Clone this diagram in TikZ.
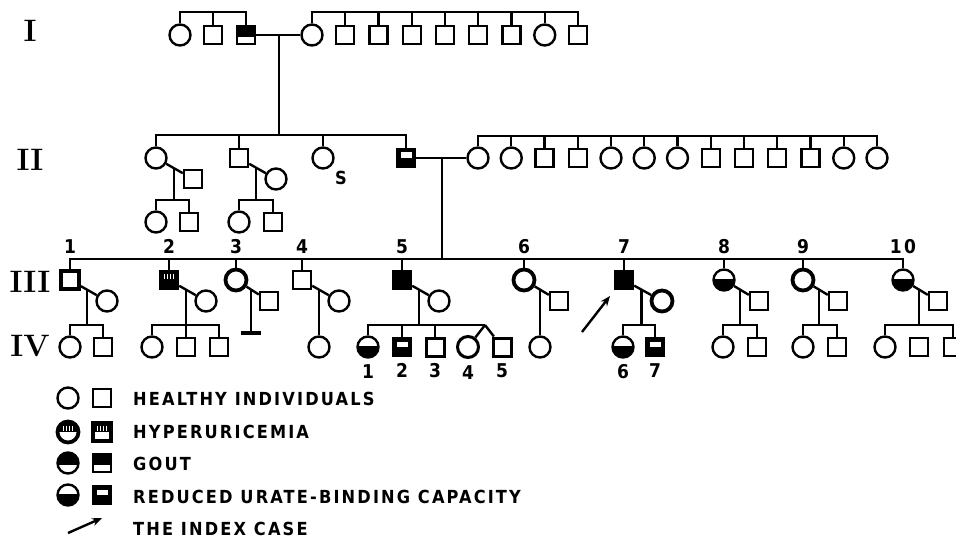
\documentclass[tikz,border=0pt]{standalone}
\usepackage{fontspec}
\usetikzlibrary{calc,arrows.meta}
\newfontfamily\dinfont{DejaVu Sans Condensed}[LetterSpace=12]
\tikzset{
  ind/.style={draw, inner sep=0pt},
  fem/.style={ind, circle, minimum size=21pt},
  mal/.style={ind, rectangle, minimum size=18pt},
  heavy/.style={line width=3.8pt},
  affected/.style={fill=black},
  gout/.style={path picture={\fill (path picture bounding box.north west) rectangle ([yshift=-2pt]path picture bounding box.east);}},
  reduced/.style={path picture={\fill ([yshift=1.5pt]path picture bounding box.west) rectangle (path picture bounding box.south east);}},
  reducedsq/.style={fill=black, path picture={\fill[white] ([shift={(-5.5pt,0pt)}]path picture bounding box.center) rectangle ([shift={(5.5pt,5.5pt)}]path picture bounding box.center);}},
  stripes/.style={path picture={\foreach \s in {-4.5,-1.5,1.5,4.5} \draw[white, line width=1.1pt] ([shift={(\s pt,1.5pt)}]path picture bounding box.center) -- ([shift={(\s pt,6pt)}]path picture bounding box.center);}},
  hyper/.style={heavy, path picture={\fill (path picture bounding box.north west) rectangle (path picture bounding box.east);
    \foreach \s in {-4.5,-1.5,1.5,4.5} \draw[white, line width=1.1pt] ([shift={(\s pt,1.5pt)}]path picture bounding box.center) -- ([shift={(\s pt,6pt)}]path picture bounding box.center);}},
  gen/.style={font=\rmfamily\bfseries\fontsize{31}{31}\selectfont},
  num/.style={font=\dinfont\bfseries\fontsize{19}{19}\selectfont, inner sep=1pt},
  lbl/.style={font=\dinfont\bfseries\fontsize{18}{18}\selectfont, anchor=west, inner sep=0pt}
}
\begin{document}
\begin{tikzpicture}[x=1pt, y=-1pt, line width=2.4pt]
\useasboundingbox (0,0) rectangle (956,540);
\clip (0,0) rectangle (956,540);

% Generations
\node[gen] (genI) at (30,31) {I};
\node[gen] (genII) at (30,160) {II};
\node[gen] (genIII) at (30,282) {III};
\node[gen] (genIV) at (30,346) {IV};

% Generation I
\coordinate (barI) at (0,12);
\node[fem] (I1) at (180,35) {};
\node[mal] (I2) at (213,35) {};
\node[mal, gout] (I3) at (246,35) {};
\draw (I1.north) |- (I3.north |- barI) -- (I3.north);
\draw (I2.north) -- (I2.north |- barI);
\foreach \s [count=\i] in {fem,mal,mal,mal,mal,mal,mal,fem,mal}
  \node[\s] (Iw\i) at ({312+33.25*(\i-1)},35) {};
\draw (Iw1.north) |- (Iw9.north |- barI) -- (Iw9.north);
\foreach \i in {2,...,8} \draw (Iw\i.north) -- (Iw\i.north |- barI);
\draw (I3) -- (Iw1);
\coordinate (Imar) at ($(I3)!0.5!(Iw1)$);

% Generation II
\coordinate (barII) at (0,135);
\node[fem] (II1) at (156,158) {};
\node[mal] (II2) at (239,158) {};
\node[fem] (II3) at (323,158) {};
\node[lbl] (sII3) at (334,178) {S};
\node[mal, reducedsq] (II5) at (406,158) {};
\draw (II1.north) |- (II5.north |- barII) -- (II5.north);
\draw (II2.north) -- (II2.north |- barII);
\draw (II3.north) -- (II3.north |- barII);
\draw (Imar) -- (Imar |- barII);

% wife of II-5 and her sibs
\coordinate (barIIw) at (0,136);
\foreach \s [count=\i] in {fem,fem,mal,mal,fem,fem,fem,mal,mal,mal,mal,fem,fem}
  \node[\s] (IIw\i) at ({478+33.25*(\i-1)},158) {};
\draw (IIw1.north) |- (IIw13.north |- barIIw) -- (IIw13.north);
\foreach \i in {2,...,12} \draw (IIw\i.north) -- (IIw\i.north |- barIIw);
\draw (II5) -- (IIw1);
\coordinate (IImar) at ($(II5)!0.5!(IIw1)$);

% families of II-1 and II-2
\coordinate (barIIc) at (0,200);
\node[mal] (IIs1) at (193,179) {};
\node[fem] (IIs2) at (276,179) {};
\draw (II1) -- (IIs1);
\draw (II2) -- (IIs2);
\coordinate (IId1) at ($(II1)!0.48!(IIs1)$);
\coordinate (IId2) at ($(II2)!0.46!(IIs2)$);
\draw (IId1) -- (IId1 |- barIIc);
\draw (IId2) -- (IId2 |- barIIc);
\node[fem] (IIc1a) at (156,222) {};
\node[mal] (IIc1b) at (189,222) {};
\node[fem] (IIc2a) at (239,222) {};
\node[mal] (IIc2b) at (273,222) {};
\draw (IIc1a.north) |- (IIc1b.north |- barIIc) -- (IIc1b.north);
\draw (IIc2a.north) |- (IIc2b.north |- barIIc) -- (IIc2b.north);

% Generation III
\coordinate (barIII) at (0,259);
\node[mal, heavy] (III1) at (70,280) {};
\node[mal, affected, stripes] (III2) at (169,280) {};
\node[fem, heavy] (III3) at (236,280) {};
\node[mal] (III4) at (302,280) {};
\node[mal, affected] (III5) at (402,280) {};
\node[fem, heavy] (III6) at (524,280) {};
\node[mal, affected] (III7) at (624,280) {};
\node[fem, reduced] (III8) at (724,280) {};
\node[fem, heavy] (III9) at (803,280) {};
\node[fem, reduced] (III10) at (903,280) {};
\draw (III1.north) |- (III10.north |- barIII) -- (III10.north);
\foreach \i in {2,...,9} \draw (III\i.north) -- (III\i.north |- barIII);
\foreach \i in {1,...,10} \node[num, above=3pt] (nIII\i) at (III\i.north |- barIII) {\i};
\draw (IImar) -- (IImar |- barIII);

% spouses in III
\node[fem] (IIIs1) at (107,301) {};
\node[fem] (IIIs2) at (206,301) {};
\node[mal] (IIIs3) at (269,301) {};
\node[fem] (IIIs4) at (339,301) {};
\node[fem] (IIIs5) at (439,301) {};
\node[mal] (IIIs6) at (559,301) {};
\node[fem, heavy] (IIIs7) at (662,301) {};
\node[mal] (IIIs8) at (759,301) {};
\node[mal] (IIIs9) at (838,301) {};
\node[mal] (IIIs10) at (938,301) {};
\foreach \i in {1,...,10} {
  \draw (III\i) -- (IIIs\i);
  \coordinate (IIId\i) at ($(III\i)!0.46!(IIIs\i)$);
}

% Generation IV
\coordinate (barIV) at (0,325);
\coordinate (barIVn) at (0,333);
\node[fem] (IV1a) at (70,347) {};
\node[mal] (IV1b) at (103,347) {};
\node[fem] (IV2a) at (152,347) {};
\node[mal] (IV2b) at (186,347) {};
\node[mal] (IV2c) at (219,347) {};
\node[fem] (IV4a) at (319,347) {};
\node[fem, reduced] (IV5a) at (368,347) {};
\node[mal, reducedsq] (IV5b) at (402,347) {};
\node[mal, line width=3pt] (IV5c) at (435,347) {};
\node[fem, line width=3pt] (IV5d) at (468,347) {};
\node[mal, line width=3pt] (IV5e) at (502,347) {};
\node[fem] (IV6a) at (540,347) {};
\node[fem, reduced] (IV7a) at (623,347) {};
\node[mal, reducedsq] (IV7b) at (655,347) {};
\node[fem] (IV8a) at (723,347) {};
\node[mal] (IV8b) at (757,347) {};
\node[fem] (IV9a) at (803,347) {};
\node[mal] (IV9b) at (837,347) {};
\node[fem] (IV10a) at (885,347) {};
\node[mal] (IV10b) at (919,347) {};
\node[mal] (IV10c) at (953,347) {};

\foreach \i in {1,2,5,7,8,9,10} \draw (IIId\i) -- (IIId\i |- barIV);
\draw (IV1a.north) |- (IV1b.north |- barIV) -- (IV1b.north);
\draw (IV2a.north) |- (IV2c.north |- barIV) -- (IV2c.north);
\draw (IV2b.north) -- (IV2b.north |- barIV);
% no issue
\coordinate (noiss) at (IIId3 |- barIVn);
\draw (IIId3) -- (noiss);
\draw[line width=3.8pt] ([xshift=-10pt]noiss) -- ([xshift=10pt]noiss);
\draw (IIId4) -- (IIId4 |- IV4a.north);
% twins
\coordinate (twin) at (485,325);
\draw (IV5a.north) |- (twin);
\draw (IV5b.north) -- (IV5b.north |- barIV);
\draw (IV5c.north) -- (IV5c.north |- barIV);
\draw (twin) -- (IV5d);
\draw (twin) -- (IV5e);
\draw (IIId6) -- (IIId6 |- IV6a.north);
\draw (IV7a.north) |- (IV7b.north |- barIV) -- (IV7b.north);
\draw (IV8a.north) |- (IV8b.north |- barIV) -- (IV8b.north);
\draw (IV9a.north) |- (IV9b.north |- barIV) -- (IV9b.north);
\draw (IV10a.north) |- (IV10c.north |- barIV) -- (IV10c.north);
\foreach \c/\n in {IV5a/1,IV5b/2,IV5c/3,IV5d/4,IV5e/5,IV7a/6,IV7b/7}
  \node[num, below=4pt] (nIV\n) at (\c.south) {\n};

% index case
\coordinate (idxtail) at (582,332);
\coordinate (idxhead) at (610,296);
\draw[-{Stealth[length=10pt,width=8pt]}] (idxtail) -- (idxhead);

% Legend
\node[fem] (kh1) at (68,398) {};
\node[mal] (kh2) at (102,398) {};
\node[fem, hyper] (ky1) at (68,432) {};
\node[mal, hyper] (ky2) at (102,432) {};
\node[fem, gout] (kg1) at (68,463) {};
\node[mal, gout] (kg2) at (102,463) {};
\node[fem, reduced] (kr1) at (68,495) {};
\node[mal, reducedsq] (kr2) at (102,495) {};
\coordinate (ka1) at (68,533);
\coordinate (ka2) at (102,518);
\draw[-{Stealth[length=10pt,width=8pt]}] (ka1) -- (ka2);
\node[lbl] (th) at (132,399) {HEALTHY INDIVIDUALS};
\node[lbl] (ty) at (132,432) {HYPERURICEMIA};
\node[lbl] (tg) at (132,464) {GOUT};
\node[lbl] (tr) at (132,497) {REDUCED URATE-BINDING CAPACITY};
\node[lbl] (ta) at (132,529) {THE INDEX CASE};
\end{tikzpicture}
\end{document}
